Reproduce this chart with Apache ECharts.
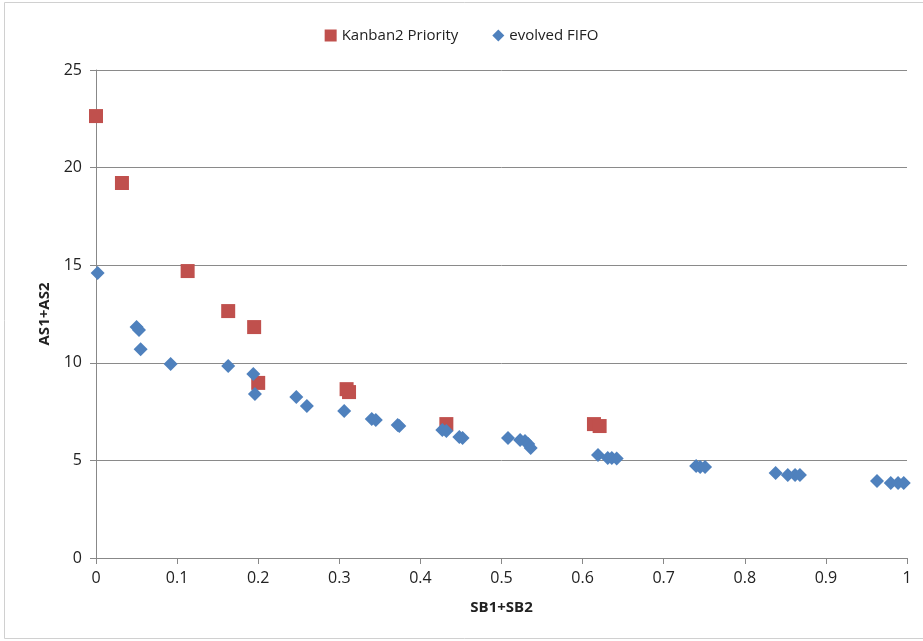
<!DOCTYPE html>
<html><head><meta charset="utf-8">
<script src="https://cdn.jsdelivr.net/npm/echarts@6/dist/echarts.min.js"></script>
<style>html,body{margin:0;padding:0;background:#fff}#c{width:923px;height:641px}</style>
</head><body><div id="c"></div>
<script>
const kanbanX = [0.0, 0.032, 0.113, 0.163, 0.195, 0.200, 0.309, 0.312, 0.432, 0.614, 0.621];
const kanbanY = [22.64, 19.21, 14.70, 12.65, 11.83, 8.97, 8.65, 8.50, 6.86, 6.86, 6.76];
const fifoX = [0.002, 0.050, 0.053, 0.055, 0.092, 0.163, 0.194, 0.196, 0.247, 0.260, 0.306, 0.340, 0.345, 0.372, 0.374, 0.427, 0.432, 0.448, 0.452, 0.508, 0.523, 0.529, 0.533, 0.536, 0.619, 0.631, 0.636, 0.642, 0.740, 0.745, 0.751, 0.838, 0.853, 0.862, 0.868, 0.963, 0.980, 0.989, 0.996];
const fifoY = [14.6, 11.83, 11.68, 10.7, 9.94, 9.84, 9.43, 8.40, 8.25, 7.79, 7.53, 7.12, 7.07, 6.81, 6.76, 6.56, 6.50, 6.20, 6.15, 6.15, 6.05, 6.00, 5.84, 5.63, 5.28, 5.12, 5.12, 5.10, 4.71, 4.66, 4.66, 4.35, 4.25, 4.25, 4.25, 3.94, 3.84, 3.84, 3.84];
const xTicks = {min: 0, max: 1, interval: 0.1};
const yTicks = {min: 0, max: 25, interval: 5};
const seriesNames = ['Kanban2 Priority', 'evolved FIFO'];

const font = "'Liberation Sans Narrow', 'Open Sans', sans-serif";
const chart = echarts.init(document.getElementById('c'), null, {renderer: 'canvas'});
chart.setOption({
  animation: false,
  backgroundColor: '#fff',
  textStyle: {fontFamily: font},
  graphic: [{type: 'rect', shape: {x: 4.5, y: 2.5, width: 930, height: 636}, style: {fill: 'none', stroke: '#d0d0d0', lineWidth: 1}, silent: true}],
  legend: {
    top: 23, left: 'center', itemGap: 34, itemWidth: 12, itemHeight: 12,
    textStyle: {fontFamily: font, fontSize: 15, color: '#222'},
    data: [{name: seriesNames[0], icon: 'rect'}, {name: seriesNames[1], icon: 'diamond'}]
  },
  grid: {left: 96, right: 16, top: 70, bottom: 83},
  xAxis: {
    type: 'value', min: xTicks.min, max: xTicks.max, interval: xTicks.interval,
    name: 'SB1+SB2', nameLocation: 'middle', nameGap: 42,
    nameTextStyle: {fontFamily: font, fontSize: 15, fontWeight: 'bold', color: '#222'},
    axisLine: {show: true, onZero: false, lineStyle: {color: '#888', width: 1}},
    axisTick: {show: true, length: 6, lineStyle: {color: '#888'}},
    axisLabel: {fontFamily: font, fontSize: 16, color: '#222', margin: 12,
      formatter: v => String(Math.round(v * 10) / 10)},
    splitLine: {show: false}
  },
  yAxis: {
    type: 'value', min: yTicks.min, max: yTicks.max, interval: yTicks.interval,
    name: 'AS1+AS2', nameLocation: 'middle', nameGap: 44, nameRotate: 90,
    nameTextStyle: {fontFamily: font, fontSize: 15, fontWeight: 'bold', color: '#222'},
    axisLine: {show: true, lineStyle: {color: '#888', width: 1}},
    axisTick: {show: true, length: 6, lineStyle: {color: '#888'}},
    axisLabel: {fontFamily: font, fontSize: 16, color: '#222', margin: 14},
    splitLine: {show: true, lineStyle: {color: '#8a8a8a', width: 1}}
  },
  series: [
    {name: seriesNames[0], type: 'scatter', symbol: 'rect', symbolSize: 14,
     itemStyle: {color: '#C0504D', opacity: 1},
     data: kanbanX.map((x, i) => [x, kanbanY[i]])},
    {name: seriesNames[1], type: 'scatter', symbol: 'diamond', symbolSize: [14, 14],
     itemStyle: {color: '#4F81BD', opacity: 1},
     data: fifoX.map((x, i) => [x, fifoY[i]])}
  ]
});
</script></body></html>
